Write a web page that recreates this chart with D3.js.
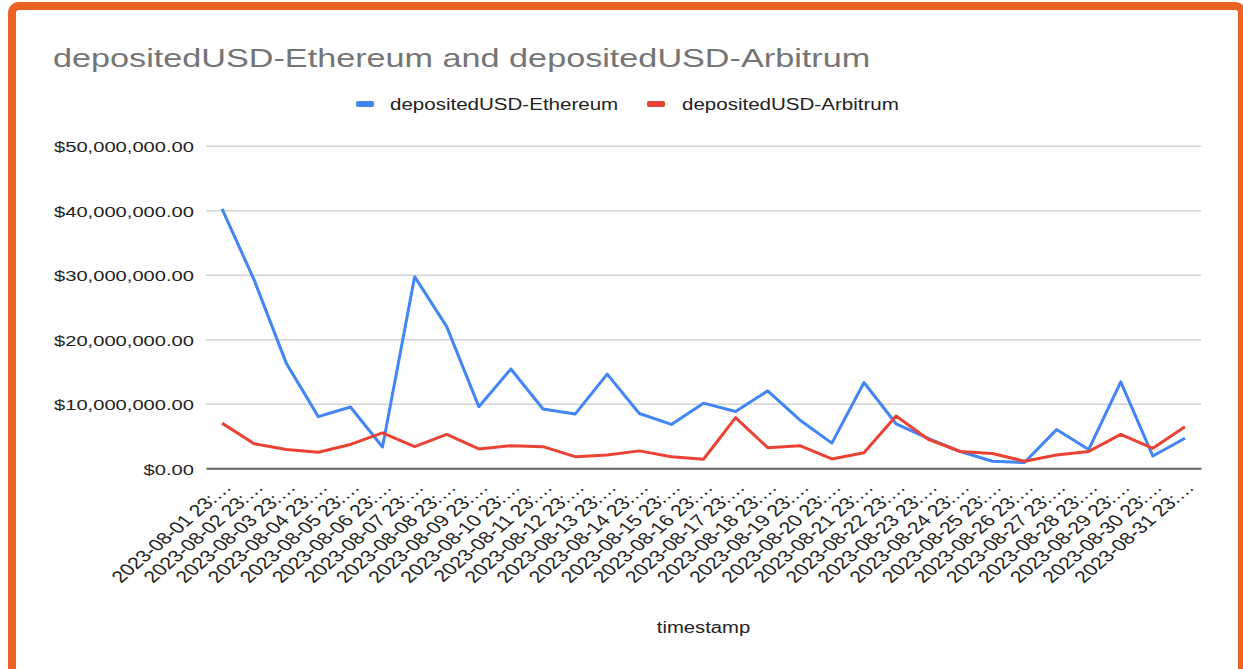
<!DOCTYPE html>
<html>
<head>
<meta charset="utf-8">
<script src="https://cdn.jsdelivr.net/npm/d3@7"></script>
<style>
  body { margin: 0; background: #fff; }
  svg { display: block; }
</style>
</head>
<body>
<div id="chart"></div>
<script>
// Kategorien (x-Achse), so wie sie im Diagramm abgeschnitten erscheinen
const timestamps = [
    "2023-08-01 23:…", "2023-08-02 23:…", "2023-08-03 23:…", "2023-08-04 23:…",
    "2023-08-05 23:…", "2023-08-06 23:…", "2023-08-07 23:…", "2023-08-08 23:…",
    "2023-08-09 23:…", "2023-08-10 23:…", "2023-08-11 23:…", "2023-08-12 23:…",
    "2023-08-13 23:…", "2023-08-14 23:…", "2023-08-15 23:…", "2023-08-16 23:…",
    "2023-08-17 23:…", "2023-08-18 23:…", "2023-08-19 23:…", "2023-08-20 23:…",
    "2023-08-21 23:…", "2023-08-22 23:…", "2023-08-23 23:…", "2023-08-24 23:…",
    "2023-08-25 23:…", "2023-08-26 23:…", "2023-08-27 23:…", "2023-08-28 23:…",
    "2023-08-29 23:…", "2023-08-30 23:…", "2023-08-31 23:…"
];

const depositedEthereum = [
    40200000, 29200000, 16300000, 8000000, 9500000, 3300000, 29700000, 21950000,
    9550000, 15400000, 9200000, 8400000, 14600000, 8500000, 6800000, 10100000,
    8800000, 12000000, 7500000, 3900000, 13300000, 6900000, 4650000, 2600000,
    1100000, 900000, 6000000, 2900000, 13400000, 1900000, 4650000
];

const depositedArbitrum = [
    7000000, 3800000, 2900000, 2500000, 3700000, 5500000, 3350000, 5250000,
    3000000, 3500000, 3350000, 1800000, 2050000, 2700000, 1800000, 1400000,
    7850000, 3200000, 3500000, 1450000, 2400000, 8100000, 4500000, 2600000,
    2300000, 1100000, 2050000, 2600000, 5250000, 3100000, 6450000
];

const yTicks = [0, 10000000, 20000000, 30000000, 40000000, 50000000];

const seriesNames = ["depositedUSD-Ethereum", "depositedUSD-Arbitrum"];
const seriesColors = ["#4285f4", "#ea4335"];

const width = 1243, height = 669;
const plot = { left: 206, right: 1201, top: 145.7, bottom: 468.3 };
const SX = 1.3; // Schrift im Original horizontal gestreckt
const font = "Arial, 'Liberation Sans', Helvetica, sans-serif";

const svg = d3.select("#chart").append("svg")
    .attr("width", width)
    .attr("height", height)
    .style("font-family", font);

// Oranger Rahmen
svg.append("rect")
    .attr("x", 12).attr("y", 6)
    .attr("width", 1230).attr("height", 720)
    .attr("rx", 7)
    .attr("fill", "#fff")
    .attr("stroke", "#eb6223")
    .attr("stroke-width", 8);

// Titel
svg.append("text")
    .attr("transform", `translate(53,67) scale(${SX},1)`)
    .attr("font-size", 26.3)
    .attr("fill", "#757575")
    .text("depositedUSD-Ethereum and depositedUSD-Arbitrum");

const x = d3.scalePoint()
    .domain(timestamps)
    .range([plot.left, plot.right])
    .padding(0.5);

const y = d3.scaleLinear()
    .domain([0, 50000000])
    .range([plot.bottom, plot.top]);

// Gitterlinien
svg.append("g")
    .attr("transform", `translate(${plot.left},0)`)
    .call(d3.axisLeft(y).tickValues(yTicks).tickSize(-(plot.right - plot.left)).tickFormat(""))
    .call(g => g.select(".domain").remove())
    .call(g => g.selectAll("line").attr("stroke", "#d4d4d4").attr("stroke-width", 1.4));

// y-Beschriftung
const fmt = d3.format("$,.2f");
svg.append("g")
    .attr("transform", `translate(${plot.left},0)`)
    .call(d3.axisLeft(y).tickValues(yTicks).tickSize(0).tickFormat(fmt))
    .call(g => g.select(".domain").remove())
    .call(g => g.selectAll("text")
        .attr("x", null)
        .attr("dy", null)
        .attr("transform", `translate(-12,5.8) scale(${SX},1)`)
        .attr("font-size", 15.5)
        .attr("font-family", font)
        .attr("fill", "#222"));

// x-Achse
svg.append("g")
    .attr("transform", `translate(0,${plot.bottom})`)
    .call(d3.axisBottom(x).tickSize(0))
    .call(g => g.select(".domain").attr("stroke", "#666").attr("stroke-width", 2))
    .call(g => g.selectAll("text")
        .attr("y", null)
        .attr("dy", null)
        .attr("text-anchor", "end")
        .attr("transform", `translate(10,20) scale(${SX},1) rotate(-48)`)
        .attr("font-size", 16.5)
        .attr("font-family", font)
        .attr("fill", "#222"));

// Achsentitel
svg.append("text")
    .attr("transform", `translate(${(plot.left + plot.right) / 2},633) scale(${SX},1)`)
    .attr("text-anchor", "middle")
    .attr("font-size", 15.6)
    .attr("fill", "#222")
    .text("timestamp");

// Linien
const line = d3.line()
    .x((d, i) => x(timestamps[i]))
    .y(d => y(d));

[depositedEthereum, depositedArbitrum].forEach((values, k) => {
    svg.append("path")
        .datum(values)
        .attr("fill", "none")
        .attr("stroke", seriesColors[k])
        .attr("stroke-width", 3)
        .attr("stroke-linejoin", "round")
        .attr("d", line);
});

// Legende
const legendX = [356, 647];
seriesNames.forEach((name, k) => {
    const g = svg.append("g").attr("transform", `translate(${legendX[k]},104)`);
    g.append("rect")
        .attr("x", 0).attr("y", -3)
        .attr("width", 18).attr("height", 6)
        .attr("rx", 2)
        .attr("fill", seriesColors[k]);
    g.append("text")
        .attr("transform", `translate(${k === 0 ? 34 : 35},5.5) scale(${SX},1)`)
        .attr("font-size", 15.8)
        .attr("fill", "#222")
        .text(name);
});
</script>
</body>
</html>
